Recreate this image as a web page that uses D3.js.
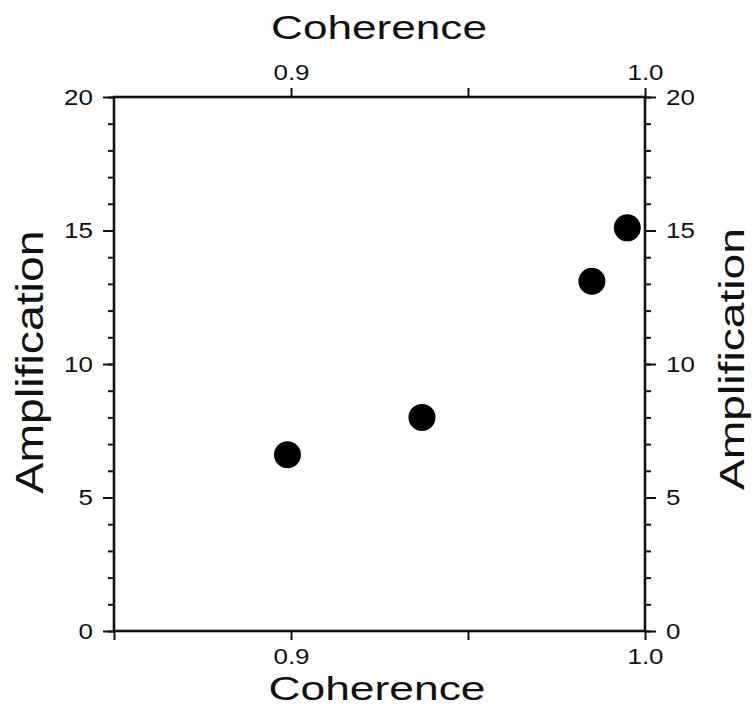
<!DOCTYPE html>
<html>
<head>
<meta charset="utf-8">
<script src="https://cdn.jsdelivr.net/npm/d3@7"></script>
<style>
  body { margin: 0; background: #fff; }
  text { font-family: "Liberation Sans", Arial, sans-serif; fill: #111; }
</style>
</head>
<body>
<div id="chart"></div>
<script>
// data
const coherence = [0.899, 0.937, 0.985, 0.995];
const amplification = [6.6, 8.0, 13.1, 15.1];
const xTicksBottom = [0.85, 0.9, 0.95, 1.0];
const xTicksTop = [0.9, 0.95, 1.0];
const xLabelled = [0.9, 1.0];
const yMajor = [0, 5, 10, 15, 20];
const yMinor = d3.range(0, 21, 1);

const W = 753, H = 728;
const plot = { left: 114, right: 645, top: 97, bottom: 631 };
const stretch = 1.18; // the scanned figure is a bit wider than the font

const svg = d3.select("#chart").append("svg")
  .attr("width", W).attr("height", H);

const x = d3.scaleLinear().domain([0.85, 1.0]).range([plot.left, plot.right]);
const y = d3.scaleLinear().domain([0, 20]).range([plot.bottom, plot.top]);

const fmtX = d => xLabelled.some(v => Math.abs(v - d) < 1e-9) ? d3.format(".1f")(d) : "";

function styleAxis(g, fontSize) {
  g.select(".domain").remove();
  g.selectAll(".tick line").attr("stroke", "#111").attr("stroke-width", 2);
  g.selectAll(".tick text")
    .attr("font-size", fontSize)
    .attr("fill", "#111")
    .each(function () {
      const t = d3.select(this);
      if (!t.text()) return;
      const w = this.getComputedTextLength();
      t.attr("textLength", w * stretch).attr("lengthAdjust", "spacingAndGlyphs");
    });
}

// minor y ticks (left and right)
svg.append("g").attr("transform", `translate(${plot.left},0)`)
  .call(d3.axisLeft(y).tickValues(yMinor).tickSize(6).tickFormat(""))
  .call(g => styleAxis(g, 22));
svg.append("g").attr("transform", `translate(${plot.right},0)`)
  .call(d3.axisRight(y).tickValues(yMinor).tickSize(6).tickFormat(""))
  .call(g => styleAxis(g, 22));

// major y ticks
svg.append("g").attr("transform", `translate(${plot.left},0)`)
  .call(d3.axisLeft(y).tickValues(yMajor).tickSize(11).tickPadding(10).tickFormat(d3.format("d")))
  .call(g => styleAxis(g, 22));
svg.append("g").attr("transform", `translate(${plot.right},0)`)
  .call(d3.axisRight(y).tickValues(yMajor).tickSize(11).tickPadding(10).tickFormat(d3.format("d")))
  .call(g => styleAxis(g, 22));

// x axes
svg.append("g").attr("transform", `translate(0,${plot.bottom})`)
  .call(d3.axisBottom(x).tickValues(xTicksBottom).tickSize(9).tickPadding(8).tickFormat(fmtX))
  .call(g => styleAxis(g, 22));
svg.append("g").attr("transform", `translate(0,${plot.top})`)
  .call(d3.axisTop(x).tickValues(xTicksTop).tickSize(9).tickPadding(8).tickFormat(fmtX))
  .call(g => styleAxis(g, 22));

// frame
svg.append("rect")
  .attr("x", plot.left).attr("y", plot.top)
  .attr("width", plot.right - plot.left).attr("height", plot.bottom - plot.top)
  .attr("fill", "none").attr("stroke", "#111").attr("stroke-width", 2.6);

// points
svg.append("g").selectAll("circle")
  .data(coherence.map((c, i) => ({ c, a: amplification[i] })))
  .join("circle")
  .attr("cx", d => x(d.c))
  .attr("cy", d => y(d.a))
  .attr("r", 13.5)
  .attr("fill", "#000");

// axis titles
function title(txt, tx, ty, rot, size, len) {
  svg.append("text")
    .attr("transform", `translate(${tx},${ty}) rotate(${rot})`)
    .attr("text-anchor", "middle")
    .attr("font-size", size)
    .attr("textLength", len)
    .attr("lengthAdjust", "spacingAndGlyphs")
    .text(txt);
}
title("Coherence", 379, 39, 0, 34, 216);
title("Coherence", 377, 700, 0, 34, 217);
title("Amplification", 43, 362, -90, 39, 263);
title("Amplification", 744, 359, -90, 35, 262);
</script>
</body>
</html>
